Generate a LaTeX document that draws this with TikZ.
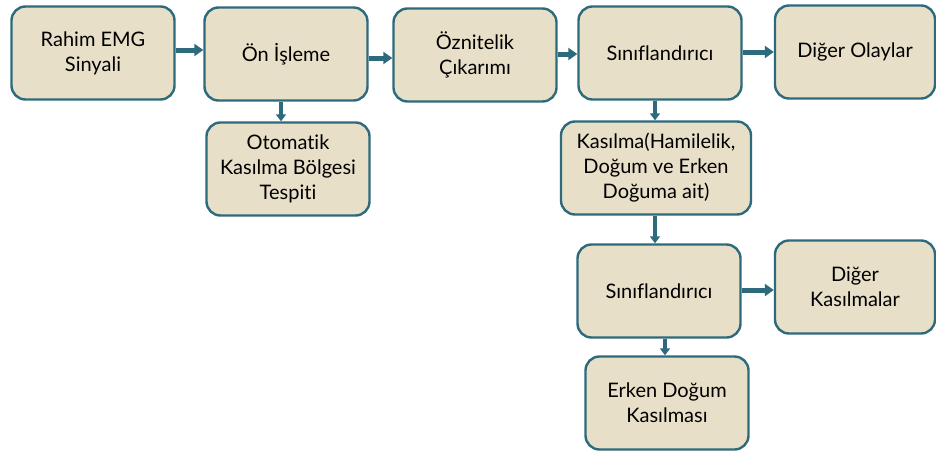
\documentclass[tikz,border=0pt]{standalone}
\usepackage{fontspec}
\setmainfont{Lato}[Ligatures={NoCommon}]
\usepackage{xcolor}
\definecolor{boxfill}{RGB}{232, 223, 200}
\definecolor{boxline}{RGB}{45, 106, 124}
\usetikzlibrary{positioning,arrows.meta}

\tikzset{
    stepbox/.style={draw=boxline, fill=boxfill, line width=2.4pt, rounded corners=14pt,
        minimum width=163pt, minimum height=93pt, align=center, inner sep=2pt,
        font=\fontsize{20}{25}\selectfont},
    flow/.style={draw=boxline, line width=5pt, -{Triangle[length=9pt, width=12pt]}},
    down/.style={draw=boxline, line width=3.5pt, -{Triangle[length=7pt, width=10pt]}},
}

\begin{document}
\begin{tikzpicture}[x=1pt, y=-1pt]
    \useasboundingbox (0, 0) rectangle (936, 455);

    % Main row
    \node[stepbox] (emg) at (93, 53) {Rahim EMG\\Sinyali};
    \node[stepbox] (onis) at (286, 54) {Ön İşleme};
    \node[stepbox] (oznit) at (475, 55) {Öznitelik\\Çıkarımı};
    \node[stepbox] (sinif) at (660, 53) {Sınıflandırıcı};
    \node[stepbox, minimum width=160pt] (olay) at (855, 52) {Diğer Olaylar};

    % Branches
    \node[stepbox] (oto) at (288, 169) {Otomatik\\Kasılma Bölgesi\\Tespiti};
    \node[stepbox, minimum width=190pt] (kas) at (656, 168) {Kasılma(Hamilelik,\\Doğum ve Erken\\Doğuma ait)};
    \node[stepbox] (sinifb) at (659, 291) {Sınıflandırıcı};
    \node[stepbox, minimum width=160pt] (diger) at (855, 287) {Diğer\\Kasılmalar};
    \node[stepbox] (erken) at (667, 403) {Erken Doğum\\Kasılması};

    % Horizontal arrows
    \draw[flow] (emg.east |- 0, 50) -- (onis.west |- 0, 50);
    \draw[flow] (onis.east |- 0, 58) -- (oznit.west |- 0, 58);
    \draw[flow] (oznit.east |- 0, 54) -- (sinif.west |- 0, 54);
    \draw[flow] (sinif.east |- 0, 52) -- (olay.west |- 0, 52);
    \draw[flow] (sinifb.east |- 0, 290) -- (diger.west |- 0, 290);

    % Vertical arrows
    \draw[down] (onis.south -| 281, 0) -- (oto.north -| 281, 0);
    \draw[down] (sinif.south -| 655, 0) -- (kas.north -| 655, 0);
    \draw[down] (kas.south -| 655, 0) -- (sinifb.north -| 655, 0);
    \draw[down] (sinifb.south -| 665, 0) -- (erken.north -| 665, 0);
\end{tikzpicture}
\end{document}
